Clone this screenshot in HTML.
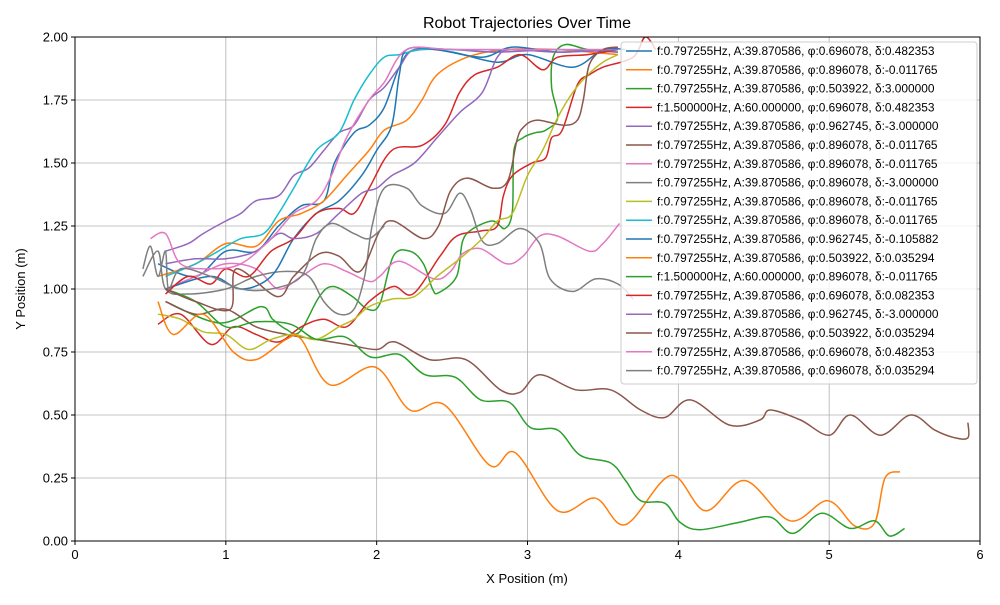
<!DOCTYPE html>
<html><head><meta charset="utf-8"><style>
body{margin:0;background:#fff;}
svg{font-family:"Liberation Sans","DejaVu Sans",sans-serif;}
</style></head><body>
<svg id="chart" width="1000" height="600" xmlns="http://www.w3.org/2000/svg"></svg>
<script>
const xTicks=[0,1,2,3,4,5,6];
const yTicks=[0,0.25,0.5,0.75,1.0,1.25,1.5,1.75,2.0];
const yTickLabels=["0.00","0.25","0.50","0.75","1.00","1.25","1.50","1.75","2.00"];
const colors=["#1f77b4","#ff7f0e","#2ca02c","#d62728","#9467bd","#8c564b","#e377c2","#7f7f7f","#bcbd22","#17becf","#1f77b4","#ff7f0e","#2ca02c","#d62728","#9467bd","#8c564b","#e377c2","#7f7f7f"];
const labels=["f:0.797255Hz, A:39.870586, φ:0.696078, δ:0.482353","f:0.797255Hz, A:39.870586, φ:0.896078, δ:-0.011765","f:0.797255Hz, A:39.870586, φ:0.503922, δ:3.000000","f:1.500000Hz, A:60.000000, φ:0.696078, δ:0.482353","f:0.797255Hz, A:39.870586, φ:0.962745, δ:-3.000000","f:0.797255Hz, A:39.870586, φ:0.896078, δ:-0.011765","f:0.797255Hz, A:39.870586, φ:0.896078, δ:-0.011765","f:0.797255Hz, A:39.870586, φ:0.896078, δ:-3.000000","f:0.797255Hz, A:39.870586, φ:0.896078, δ:-0.011765","f:0.797255Hz, A:39.870586, φ:0.896078, δ:-0.011765","f:0.797255Hz, A:39.870586, φ:0.962745, δ:-0.105882","f:0.797255Hz, A:39.870586, φ:0.503922, δ:0.035294","f:1.500000Hz, A:60.000000, φ:0.896078, δ:-0.011765","f:0.797255Hz, A:39.870586, φ:0.696078, δ:0.082353","f:0.797255Hz, A:39.870586, φ:0.962745, δ:-3.000000","f:0.797255Hz, A:39.870586, φ:0.503922, δ:0.035294","f:0.797255Hz, A:39.870586, φ:0.696078, δ:0.482353","f:0.797255Hz, A:39.870586, φ:0.696078, δ:0.035294"];
const s1=[[0.55,1.1],[0.8,1.05],[1.0,1.15],[1.2,1.15],[1.35,1.25],[1.5,1.33],[1.65,1.35],[1.72,1.5],[1.85,1.62],[1.95,1.65],[2.05,1.72],[2.15,1.88],[2.25,1.95],[2.5,1.94],[2.8,1.9],[3.0,1.93],[3.3,1.88],[3.5,1.95],[3.65,1.95]];
const s2=[[0.55,1.05],[0.8,1.1],[1.0,1.18],[1.2,1.17],[1.35,1.27],[1.5,1.3],[1.65,1.35],[1.8,1.45],[1.95,1.55],[2.05,1.63],[2.2,1.67],[2.3,1.75],[2.4,1.85],[2.6,1.92],[2.85,1.95],[3.2,1.95],[3.6,1.93]];
const s3=[[0.6,0.95],[0.96,0.865],[1.23,0.93],[1.31,0.88],[1.4,0.84],[1.49,0.83],[1.62,0.97],[1.71,1.01],[1.84,0.97],[1.94,0.92],[2.02,0.94],[2.11,1.13],[2.22,1.15],[2.31,1.1],[2.37,1.0],[2.41,0.985],[2.53,1.05],[2.57,1.19],[2.64,1.24],[2.77,1.27],[2.85,1.24],[2.9,1.31],[2.91,1.55],[2.97,1.6],[3.05,1.62],[3.12,1.63],[3.2,1.68],[3.16,1.8],[3.17,1.92],[3.25,1.97],[3.4,1.95],[3.6,1.94]];
const s4=[[0.55,0.86],[0.7,0.9],[0.9,0.78],[1.05,0.85],[1.2,0.82],[1.35,0.79],[1.5,0.85],[1.65,0.88],[1.8,0.85],[1.95,0.95],[2.11,1.01],[2.24,0.98],[2.42,1.13],[2.53,1.21],[2.69,1.23],[2.8,1.25],[2.84,1.37],[2.9,1.45],[3.03,1.5],[3.12,1.52],[3.16,1.6],[3.23,1.63],[3.33,1.81],[3.41,1.85],[3.5,1.88],[3.7,1.92],[3.78,2.0],[3.85,1.95]];
const s5=[[0.6,1.15],[0.75,1.18],[0.85,1.22],[1.0,1.27],[1.1,1.3],[1.2,1.35],[1.35,1.37],[1.45,1.45],[1.55,1.48],[1.65,1.55],[1.75,1.62],[1.85,1.65],[1.95,1.75],[2.05,1.8],[2.15,1.88],[2.25,1.95],[2.5,1.95],[2.8,1.94],[3.2,1.95],[3.6,1.94]];
const s6=[[0.6,0.95],[0.8,0.9],[1.0,0.92],[1.2,0.85],[1.4,0.82],[1.6,0.8],[1.8,0.78],[2.0,0.76],[2.12,0.79],[2.35,0.72],[2.59,0.72],[2.82,0.6],[2.95,0.59],[3.08,0.66],[3.32,0.6],[3.55,0.6],[3.75,0.52],[3.91,0.49],[4.08,0.56],[4.34,0.46],[4.54,0.48],[4.61,0.52],[4.81,0.48],[5.0,0.42],[5.14,0.5],[5.34,0.42],[5.54,0.5],[5.7,0.44],[5.83,0.41],[5.92,0.41],[5.92,0.47]];
const s7=[[0.6,1.0],[0.8,1.05],[1.0,1.1],[1.2,1.08],[1.35,1.0],[1.5,1.05],[1.65,1.1],[1.8,1.07],[1.95,1.03],[2.02,1.05],[2.15,1.11],[2.38,1.04],[2.49,1.07],[2.57,1.14],[2.69,1.16],[2.86,1.1],[2.97,1.13],[3.08,1.21],[3.2,1.21],[3.41,1.15],[3.5,1.18],[3.61,1.26]];
const s8=[[0.45,1.05],[0.55,1.15],[0.6,1.0],[0.75,0.98],[1.0,1.0],[1.2,1.05],[1.4,1.07],[1.55,1.05],[1.65,0.95],[1.75,0.9],[1.85,0.92],[1.92,1.05],[1.97,1.25],[2.05,1.4],[2.2,1.4],[2.3,1.33],[2.45,1.3],[2.55,1.38],[2.62,1.32],[2.7,1.19],[2.8,1.18],[2.95,1.24],[3.08,1.18],[3.15,1.04],[3.3,0.99],[3.45,1.04],[3.6,1.02],[3.7,0.96]];
const s9=[[0.55,0.9],[0.7,0.88],[0.85,0.83],[1.0,0.82],[1.15,0.76],[1.3,0.8],[1.45,0.82],[1.6,0.8],[1.75,0.85],[1.85,0.88],[1.95,0.93],[2.1,0.96],[2.25,0.97],[2.4,1.05],[2.55,1.12],[2.7,1.2],[2.8,1.27],[2.9,1.3],[3.0,1.45],[3.1,1.55],[3.2,1.68],[3.3,1.78],[3.4,1.85],[3.5,1.9],[3.6,1.93]];
const s10=[[0.6,1.05],[0.8,1.1],[0.95,1.15],[1.1,1.2],[1.25,1.22],[1.35,1.3],[1.45,1.4],[1.6,1.55],[1.75,1.62],[1.85,1.75],[1.95,1.85],[2.05,1.92],[2.15,1.93],[2.3,1.95],[2.6,1.95],[3.0,1.95],[3.5,1.95]];
const s11=[[0.6,1.0],[0.9,1.05],[1.1,1.0],[1.3,1.05],[1.45,1.2],[1.6,1.3],[1.75,1.35],[1.9,1.45],[2.0,1.55],[2.1,1.65],[2.15,1.85],[2.2,1.95],[2.4,1.95],[2.7,1.92],[2.9,1.96],[3.2,1.94],[3.5,1.95]];
const s12=[[0.55,0.95],[0.65,0.82],[0.85,0.9],[1.05,0.75],[1.2,0.72],[1.4,0.8],[1.5,0.8],[1.69,0.62],[1.99,0.69],[2.22,0.52],[2.45,0.54],[2.75,0.3],[2.92,0.35],[3.2,0.12],[3.45,0.17],[3.65,0.065],[3.95,0.26],[4.18,0.12],[4.44,0.24],[4.74,0.08],[4.99,0.16],[5.17,0.06],[5.3,0.07],[5.37,0.25],[5.47,0.275]];
const s13=[[0.6,1.0],[0.8,0.95],[1.0,0.85],[1.2,0.87],[1.43,0.86],[1.6,0.8],[1.79,0.81],[1.96,0.73],[2.15,0.74],[2.32,0.66],[2.52,0.65],[2.69,0.56],[2.88,0.55],[3.02,0.45],[3.2,0.44],[3.35,0.34],[3.55,0.31],[3.65,0.24],[3.75,0.16],[3.91,0.15],[4.01,0.075],[4.14,0.045],[4.41,0.075],[4.61,0.095],[4.76,0.03],[4.95,0.11],[5.14,0.05],[5.3,0.08],[5.4,0.02],[5.5,0.05]];
const s14=[[0.6,0.98],[0.75,1.05],[0.9,1.02],[1.0,1.08],[1.15,1.05],[1.3,1.15],[1.45,1.2],[1.6,1.3],[1.75,1.32],[1.85,1.3],[1.95,1.4],[2.1,1.55],[2.3,1.57],[2.45,1.65],[2.55,1.78],[2.65,1.85],[2.8,1.88],[2.95,1.93],[3.1,1.87],[3.2,1.92],[3.4,1.93],[3.6,1.95]];
const s15=[[0.6,1.1],[0.8,1.12],[1.0,1.12],[1.2,1.15],[1.35,1.22],[1.45,1.2],[1.6,1.22],[1.75,1.3],[1.9,1.38],[2.0,1.4],[2.1,1.45],[2.25,1.5],[2.4,1.6],[2.55,1.7],[2.7,1.78],[2.8,1.92],[2.9,1.95],[3.2,1.94],[3.6,1.95]];
const s16=[[0.6,1.0],[0.8,0.95],[1.03,0.92],[1.07,1.08],[1.34,0.97],[1.45,1.05],[1.62,1.14],[1.75,1.13],[1.89,1.07],[2.02,1.23],[2.11,1.27],[2.31,1.2],[2.41,1.25],[2.49,1.39],[2.6,1.44],[2.77,1.4],[2.87,1.43],[2.93,1.59],[2.97,1.64],[3.06,1.67],[3.24,1.65],[3.33,1.67],[3.37,1.75],[3.41,1.89],[3.5,1.95],[3.6,1.96]];
const s17=[[0.5,1.2],[0.6,1.22],[0.7,1.1],[0.9,1.08],[1.1,1.1],[1.3,1.2],[1.45,1.3],[1.6,1.35],[1.7,1.45],[1.8,1.6],[1.95,1.75],[2.05,1.82],[2.2,1.95],[2.5,1.95],[3.0,1.95],[3.5,1.95]];
const s18=[[0.45,1.08],[0.5,1.17],[0.55,1.05],[0.6,1.15],[0.62,1.0],[0.7,1.08],[0.9,1.05],[1.1,1.0],[1.3,1.0],[1.5,1.05],[1.6,1.2],[1.7,1.26],[1.85,1.22],[1.95,1.2],[2.05,1.25]];
const series=[s1,s2,s3,s4,s5,s6,s7,s8,s9,s10,s11,s12,s13,s14,s15,s16,s17,s18];

const NS="http://www.w3.org/2000/svg";
const svg=document.getElementById('chart');
const L=75,R=980,T=37,B=541;
const X=v=>L+(v-0)/(6-0)*(R-L);
const Y=v=>B-(v-0)/(2-0)*(B-T);
function mk(tag,attrs,parent){const e=document.createElementNS(NS,tag);for(const k in attrs)e.setAttribute(k,attrs[k]);(parent||svg).appendChild(e);return e;}

const grid=mk('g',{});


xTicks.forEach(t=>{mk('line',{x1:X(t),x2:X(t),y1:T,y2:B,stroke:'#b0b0b0','stroke-width':0.8},grid);});
yTicks.forEach(t=>{mk('line',{x1:L,x2:R,y1:Y(t),y2:Y(t),stroke:'#b0b0b0','stroke-width':0.8},grid);});

const defs=mk('defs',{});
const cp=mk('clipPath',{id:'clip'},defs);
mk('rect',{x:L,y:T,width:R-L,height:B-T},cp);
const lines=mk('g',{'clip-path':'url(#clip)'});
function smooth(pts){let d='M'+pts[0][0]+','+pts[0][1];for(let i=0;i<pts.length-1;i++){const p0=pts[Math.max(0,i-1)],p1=pts[i],p2=pts[i+1],p3=pts[Math.min(pts.length-1,i+2)];const c1=[p1[0]+(p2[0]-p0[0])/6,p1[1]+(p2[1]-p0[1])/6];const c2=[p2[0]-(p3[0]-p1[0])/6,p2[1]-(p3[1]-p1[1])/6];d+=' C'+c1[0].toFixed(1)+','+c1[1].toFixed(1)+' '+c2[0].toFixed(1)+','+c2[1].toFixed(1)+' '+p2[0].toFixed(1)+','+p2[1].toFixed(1);}return d;}
series.forEach((s,i)=>{
  const p=mk('path',{d:smooth(s.map(q=>[X(q[0]),Y(q[1])])),fill:'none',stroke:colors[i],'stroke-width':1.5,'stroke-linejoin':'round'},lines);
  
  
});

const frame=mk('rect',{x:L,y:T,width:R-L,height:B-T,fill:'none',stroke:'#000','stroke-width':1});



xTicks.forEach(t=>{
  mk('line',{x1:X(t),x2:X(t),y1:B,y2:B+4,stroke:'#000'});
  const tx=mk('text',{x:X(t),y:B+18,'text-anchor':'middle','font-size':13});
  tx.textContent=String(t);
  
  
});
yTicks.forEach((t,i)=>{
  mk('line',{x1:L-4,x2:L,y1:Y(t),y2:Y(t),stroke:'#000'});
  const tx=mk('text',{x:L-7,y:Y(t)+4.5,'text-anchor':'end','font-size':13});
  tx.textContent=yTickLabels[i];
  
  
});
const title=mk('text',{x:527,y:28,'text-anchor':'middle','font-size':16});
title.textContent='Robot Trajectories Over Time';


const xl=mk('text',{x:527,y:583,'text-anchor':'middle','font-size':13});
xl.textContent='X Position (m)';


const yl=mk('text',{x:0,y:0,'text-anchor':'middle','font-size':13,transform:'translate(25,289) rotate(-90)'});
yl.textContent='Y Position (m)';



const leg=mk('g',{});


mk('rect',{x:621,y:42,width:356,height:342,rx:3,fill:'#fff','fill-opacity':0.8,stroke:'#cccccc','stroke-width':1},leg);
labels.forEach((lb,i)=>{
  const y=51+i*18.8;
  const g=mk('g',{},leg);
  
  
  mk('line',{x1:626,x2:652,y1:y,y2:y,stroke:colors[i],'stroke-width':1.5},g);
  const t=mk('text',{x:657,y:y+4,'font-size':11.9},g);
  t.textContent=lb;
});
</script>
</body></html>
